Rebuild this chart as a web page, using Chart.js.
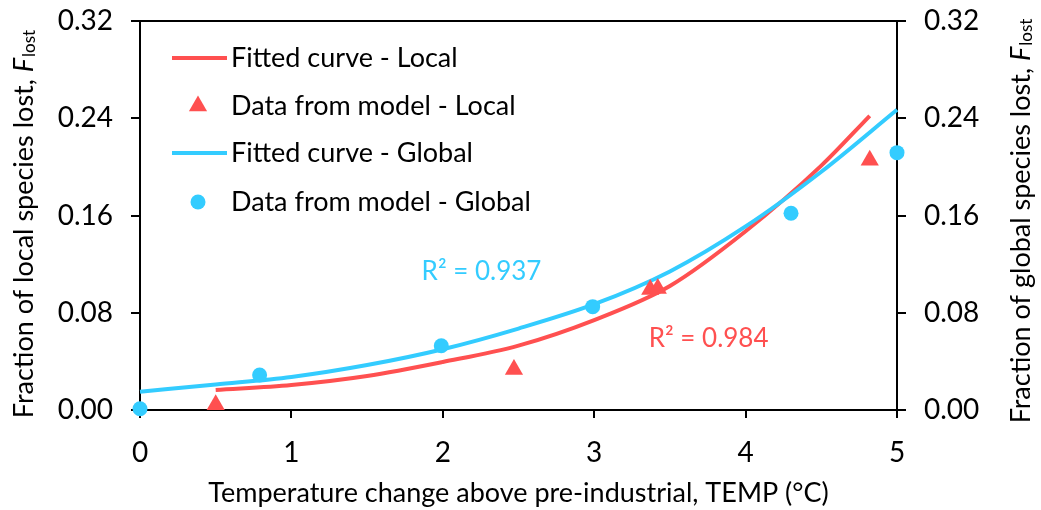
<!DOCTYPE html>
<html><head><meta charset="utf-8">
<script src="https://cdn.jsdelivr.net/npm/chart.js@4/dist/chart.umd.min.js"></script>
<style>html,body{margin:0;padding:0;background:#fff;}#wrap{width:1041px;height:510px;position:relative;}</style>
</head><body><div id="wrap"><canvas id="c"></canvas></div>
<script>
// ---- data ----
const localDataX  = [0.50, 2.47, 3.37, 3.42, 4.82];
const localDataY  = [0.0044, 0.0334, 0.0992, 0.1000, 0.2055];
const globalDataX = [0.00, 0.79, 1.99, 2.99, 4.30, 5.00];
const globalDataY = [0.001, 0.0288, 0.0529, 0.0850, 0.1618, 0.2117];
const localFitX   = [0.5, 1.0, 1.5, 2.0, 2.5, 3.0, 3.5, 4.0, 4.5, 4.82];
const localFitY   = [0.0165, 0.0206, 0.0280, 0.0395, 0.0530, 0.0740, 0.1020, 0.1470, 0.2010, 0.2420];
const globalFitX  = [0.0, 0.5, 1.0, 1.5, 2.0, 2.5, 3.0, 3.5, 4.0, 4.5, 5.0];
const globalFitY  = [0.0150, 0.0210, 0.0272, 0.0370, 0.0500, 0.0670, 0.0870, 0.1140, 0.1510, 0.1960, 0.2470];
const xTicks = [0, 1, 2, 3, 4, 5];
const yTicks = [0.00, 0.08, 0.16, 0.24, 0.32];
const seriesNames = ['Fitted curve - Local', 'Data from model - Local', 'Fitted curve - Global', 'Data from model - Global'];
const r2Labels = ['R\u00B2 = 0.984', 'R\u00B2 = 0.937'];
const r2AnchorX = [3.36, 1.86];
const r2AnchorY = [0.0584, 0.1135];

const RED = '#FF5050', BLUE = '#33CCFF';
const FONT = 'Lato';
const FS = 27, FS_TICK = 28, FS_R2 = 26;
const pts = (xs, ys) => xs.map((x, i) => ({x, y: ys[i]}));

const tickSet = arr => scale => { scale.ticks = arr.map(v => ({value: v})); };
const noPad = s => { s.paddingTop = 0; s.paddingBottom = 0; s.paddingLeft = 0; s.paddingRight = 0; };

const overlay = {
  id: 'overlay',
  afterDraw(chart) {
    const ctx = chart.ctx, ca = chart.chartArea;
    const xs = chart.scales.x, ys = chart.scales.y;
    ctx.save();
    // R^2 labels
    ctx.font = FS_R2 + 'px ' + FONT;
    ctx.textBaseline = 'middle';
    ctx.textAlign = 'left';
    [RED, BLUE].forEach((c, i) => {
      ctx.fillStyle = c;
      ctx.fillText(r2Labels[i], xs.getPixelForValue(r2AnchorX[i]), ys.getPixelForValue(r2AnchorY[i]));
    });
    // legend
    const ds = chart.data.datasets;
    const rowY = [37, 85, 132, 181];
    ds.forEach((d, i) => {
      const y = ca.top + rowY[i];
      if (d.showLine) {
        ctx.strokeStyle = d.borderColor; ctx.lineWidth = 4;
        ctx.beginPath(); ctx.moveTo(ca.left + 32, y); ctx.lineTo(ca.left + 87, y); ctx.stroke();
      } else {
        ctx.fillStyle = d.backgroundColor;
        Chart.helpers.drawPoint(ctx, {pointStyle: d.pointStyle, radius: d.pointRadius, borderWidth: 0, rotation: 0}, ca.left + 58, y);
      }
      ctx.fillStyle = '#000';
      ctx.font = FS + 'px ' + FONT;
      ctx.textAlign = 'left'; ctx.textBaseline = 'middle';
      ctx.fillText(seriesNames[i], ca.left + 91, y);
    });
    // axis titles
    ctx.fillStyle = '#000';
    ctx.textAlign = 'center'; ctx.textBaseline = 'middle';
    ctx.font = FS + 'px ' + FONT;
    ctx.fillText('Temperature change above pre-industrial, TEMP (\u00B0C)', (ca.left + ca.right) / 2, 493);
    const vTitle = (main, cx, cy) => {
      ctx.save();
      ctx.translate(cx, cy); ctx.rotate(-Math.PI / 2);
      ctx.textAlign = 'left'; ctx.textBaseline = 'middle';
      const fMain = FS + 'px ' + FONT, fIt = 'italic ' + FS + 'px ' + FONT, fSub = Math.round(FS * 0.62) + 'px ' + FONT;
      ctx.font = fMain; const w1 = ctx.measureText(main).width;
      ctx.font = fIt; const w2 = ctx.measureText('F').width;
      ctx.font = fSub; const w3 = ctx.measureText('lost').width;
      let x = -(w1 + w2 + 1 + w3) / 2;
      ctx.font = fMain; ctx.fillText(main, x, 0); x += w1;
      ctx.font = fIt; ctx.fillText('F', x, 0); x += w2 + 1;
      ctx.font = fSub; ctx.fillText('lost', x, 6);
      ctx.restore();
    };
    vTitle('Fraction of local species lost, ', 24, 224);
    vTitle('Fraction of global species lost, ', 1021, 221);
    ctx.restore();
  }
};

const axisCommon = {
  border: {display: true, color: '#000', width: 2},
  grid: {drawOnChartArea: false, drawTicks: true, tickLength: 9, tickColor: '#000', tickWidth: 2, lineWidth: 2, color: '#000'},
};

new Chart(document.getElementById('c'), {
  type: 'scatter',
  data: {
    datasets: [
      {label: seriesNames[0], data: pts(localFitX, localFitY), showLine: true, borderColor: RED, backgroundColor: RED,
       borderWidth: 4, pointRadius: 0, cubicInterpolationMode: 'monotone', order: 4, clip: false},
      {label: seriesNames[1], data: pts(localDataX, localDataY), pointStyle: 'triangle', pointRadius: 10.5,
       backgroundColor: RED, borderColor: RED, borderWidth: 0, order: 2, clip: false},
      {label: seriesNames[2], data: pts(globalFitX, globalFitY), showLine: true, borderColor: BLUE, backgroundColor: BLUE,
       borderWidth: 4, pointRadius: 0, cubicInterpolationMode: 'monotone', order: 3, clip: false},
      {label: seriesNames[3], data: pts(globalDataX, globalDataY), pointStyle: 'circle', pointRadius: 7.5,
       backgroundColor: BLUE, borderColor: BLUE, borderWidth: 0, order: 1, clip: false},
    ]
  },
  options: {
    responsive: true, maintainAspectRatio: false, animation: false,
    layout: {padding: 0},
    plugins: {legend: {display: false}, tooltip: {enabled: false}},
    scales: {
      x: {type: 'linear', position: 'bottom', min: 0, max: 5, afterBuildTicks: tickSet(xTicks),
          ticks: {color: '#000', font: {family: FONT, size: FS_TICK}, padding: 18},
          ...axisCommon, grid: {...axisCommon.grid, tickLength: 8},
          afterFit: s => { s.height = 100; noPad(s); }},
      x2: {type: 'linear', position: 'top', min: 0, max: 5, ticks: {display: false},
          grid: {display: false}, border: {display: true, color: '#000', width: 2},
          afterFit: s => { s.height = 21; noPad(s); }},
      y: {type: 'linear', position: 'left', min: 0, max: 0.32, afterBuildTicks: tickSet(yTicks),
          ticks: {color: '#000', font: {family: FONT, size: FS_TICK}, padding: 18, callback: v => v.toFixed(2)},
          ...axisCommon, afterFit: s => { s.width = 140; noPad(s); }},
      y2: {type: 'linear', position: 'right', min: 0, max: 0.32, afterBuildTicks: tickSet(yTicks),
          ticks: {color: '#000', font: {family: FONT, size: FS_TICK}, padding: 18, callback: v => v.toFixed(2)},
          ...axisCommon, afterFit: s => { s.width = 144; noPad(s); }},
    }
  },
  plugins: [overlay]
});
</script></body></html>
